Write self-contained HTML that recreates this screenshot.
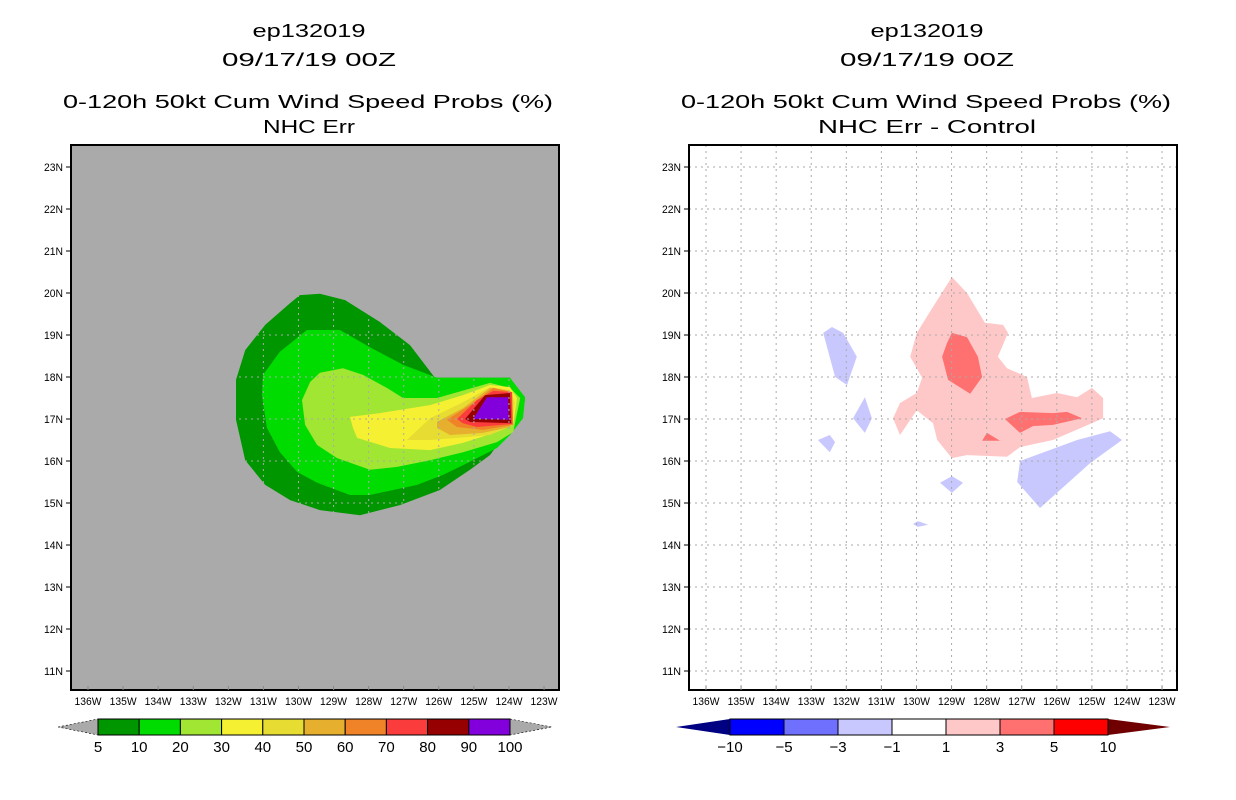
<!DOCTYPE html>
<html><head><meta charset="utf-8"><style>
html,body{margin:0;padding:0;background:#fff;}
svg{display:block;}
text{font-family:"Liberation Sans",sans-serif;fill:#000;}
</style></head><body>
<svg id="chart" width="1236" height="800" viewBox="0 0 1236 800" xmlns="http://www.w3.org/2000/svg">
<defs>
<clipPath id="clipL"><rect x="71" y="145" width="488" height="545"/></clipPath>
<clipPath id="clipR"><rect x="689" y="145" width="488" height="545"/></clipPath>
<clipPath id="clipOuter"><polygon id="outerClipPoly"/></clipPath>
</defs>
<g id="titles">
<text x="309" y="37" text-anchor="middle" font-size="18" textLength="113" lengthAdjust="spacingAndGlyphs">ep132019</text>
<text x="309" y="66" text-anchor="middle" font-size="18" textLength="174" lengthAdjust="spacingAndGlyphs">09/17/19 00Z</text>
<text x="308" y="108" text-anchor="middle" font-size="18" textLength="490" lengthAdjust="spacingAndGlyphs">0-120h 50kt Cum Wind Speed Probs (%)</text>
<text x="309" y="133" text-anchor="middle" font-size="18" textLength="92" lengthAdjust="spacingAndGlyphs">NHC Err</text>
<text x="927" y="37" text-anchor="middle" font-size="18" textLength="113" lengthAdjust="spacingAndGlyphs">ep132019</text>
<text x="927" y="66" text-anchor="middle" font-size="18" textLength="174" lengthAdjust="spacingAndGlyphs">09/17/19 00Z</text>
<text x="926" y="108" text-anchor="middle" font-size="18" textLength="490" lengthAdjust="spacingAndGlyphs">0-120h 50kt Cum Wind Speed Probs (%)</text>
<text x="927" y="133" text-anchor="middle" font-size="18" textLength="218" lengthAdjust="spacingAndGlyphs">NHC Err - Control</text>
</g>
<g id="left"></g>
<g id="right"></g>
<g id="cbars"></g>
</svg>
<script>
// ---- data ----
var lonTicks = [-136,-135,-134,-133,-132,-131,-130,-129,-128,-127,-126,-125,-124,-123];
var lonLabels = ["136W","135W","134W","133W","132W","131W","130W","129W","128W","127W","126W","125W","124W","123W"];
var latTicks = [23,22,21,20,19,18,17,16,15,14,13,12,11];
var latLabels = ["23N","22N","21N","20N","19N","18N","17N","16N","15N","14N","13N","12N","11N"];

var probLevels = [5,10,20,30,40,50,60,70,80,90,100];
var probLevelLabels = ["5","10","20","30","40","50","60","70","80","90","100"];
var probColors = ["#009600","#00dc00","#a0e632","#f5f032","#e6dc32","#e6af2d","#f08228","#fa3c3c","#960000","#8200dc"];

var diffLevelLabels = ["-10","-5","-3","-1","1","3","5","10"];
var diffColors = ["#0000ff","#7070ff","#c8c8ff","#ffffff","#ffc8c8","#ff7070","#ff0000"];
var diffTipColors = ["#000082","#700000"];

// probability contours [lon, lat] per level (5,10,...,90)
var prob5 = [[-130.24,19.76],[-129.96,19.95],[-129.39,19.98],[-128.67,19.83],[-127.68,19.31],[-126.82,18.76],[-126.11,17.98],[-123.97,17.98],[-123.54,17.45],[-123.91,16.86],[-124.54,16.14],[-125.11,15.79],[-125.97,15.31],[-127.11,14.95],[-128.25,14.71],[-129.39,14.83],[-130.24,15.07],[-130.95,15.43],[-131.52,16.02],[-131.78,16.98],[-131.78,17.93],[-131.52,18.64],[-130.95,19.24]];
var prob10 = [[-131.04,17.57],[-131.01,18.05],[-130.53,18.60],[-129.76,19.12],[-128.82,19.12],[-127.96,18.71],[-127.02,18.29],[-126.05,17.98],[-123.97,17.98],[-123.54,17.52],[-123.60,17.02],[-123.97,16.62],[-124.34,16.31],[-124.91,16.07],[-125.31,15.90],[-125.88,15.67],[-126.62,15.43],[-127.96,15.19],[-128.53,15.19],[-129.47,15.48],[-130.04,15.74],[-130.53,16.21],[-130.90,16.79]];
var prob20 = [[-129.90,17.45],[-129.67,17.88],[-129.39,18.10],[-128.73,18.21],[-128.16,18.05],[-127.48,17.74],[-127.02,17.50],[-126.05,17.50],[-124.54,17.86],[-123.97,17.74],[-123.68,17.50],[-123.88,16.69],[-124.34,16.45],[-125.31,16.21],[-126.25,16.02],[-127.19,15.86],[-127.96,15.79],[-128.90,16.07],[-129.47,16.38],[-129.81,16.86]];
var prob30 = [[-128.53,17.05],[-127.68,17.14],[-126.25,17.33],[-125.31,17.57],[-124.54,17.81],[-123.97,17.76],[-123.77,17.50],[-123.88,16.86],[-124.34,16.69],[-125.31,16.43],[-126.25,16.26],[-127.39,16.31],[-128.33,16.55],[-128.45,16.79]];
var prob40 = [[-126.91,16.50],[-126.25,17.02],[-125.31,17.40],[-124.54,17.76],[-123.97,17.69],[-123.83,17.40],[-123.91,16.86],[-124.54,16.62],[-125.48,16.55],[-126.25,16.50]];
var prob50 = [[-126.05,16.93],[-125.31,17.26],[-124.54,17.74],[-123.97,17.67],[-123.88,17.02],[-123.97,16.81],[-124.74,16.67],[-125.68,16.62],[-126.05,16.79]];
var prob60 = [[-125.77,16.98],[-125.11,17.33],[-124.45,17.74],[-123.91,17.64],[-123.88,16.86],[-124.74,16.74],[-125.48,16.81]];
var prob70 = [[-125.48,17.00],[-124.91,17.45],[-124.45,17.67],[-123.91,17.64],[-123.91,16.88],[-124.91,16.81],[-125.31,16.90]];
var prob80 = [[-125.25,17.00],[-124.68,17.57],[-123.97,17.62],[-123.94,16.90],[-125.11,16.93]];
var prob90 = [[-125.02,17.00],[-124.63,17.52],[-124.03,17.52],[-124.00,16.98]];

// difference contours
var diffPos1 = [[-128.99,20.38],[-128.56,20.00],[-128.05,19.29],[-127.53,19.24],[-127.39,19.05],[-127.68,18.48],[-127.42,18.21],[-126.85,18.00],[-126.71,17.50],[-125.99,17.62],[-125.42,17.52],[-125.00,17.74],[-124.68,17.50],[-124.68,17.02],[-125.25,16.81],[-126.11,16.50],[-127.05,16.33],[-127.42,16.10],[-128.56,16.14],[-128.99,16.07],[-129.41,16.50],[-129.53,16.90],[-129.99,17.21],[-130.47,16.62],[-130.67,17.02],[-130.47,17.38],[-129.99,17.62],[-129.84,17.98],[-130.18,18.48],[-129.99,19.05],[-129.53,19.67]];
var diffPos3a = [[-128.99,19.05],[-128.56,18.95],[-128.25,18.48],[-128.13,18.00],[-128.47,17.60],[-129.10,17.93],[-129.27,18.48],[-129.13,18.81]];
var diffPos3b = [[-127.48,17.00],[-127.05,17.17],[-126.11,17.14],[-125.71,17.17],[-125.28,17.02],[-126.11,16.86],[-126.68,16.83],[-127.05,16.67]];
var diffPos3c = [[-128.13,16.48],[-127.99,16.67],[-127.62,16.48]];
var diffNeg1a = [[-132.66,19.05],[-132.41,19.19],[-132.09,19.05],[-131.70,18.48],[-131.98,17.81],[-132.32,18.00]];
var diffNeg1b = [[-131.47,17.52],[-131.27,17.02],[-131.47,16.67],[-131.81,17.02]];
var diffNeg1c = [[-132.81,16.50],[-132.47,16.62],[-132.32,16.45],[-132.47,16.21]];
var diffNeg1d = [[-129.33,15.48],[-128.99,15.64],[-128.67,15.48],[-128.99,15.24]];
var diffNeg1e = [[-130.10,14.50],[-129.96,14.57],[-129.67,14.48],[-129.96,14.43]];
var diffNeg1f = [[-127.05,16.00],[-125.42,16.50],[-124.48,16.71],[-124.14,16.50],[-125.05,15.95],[-126.48,14.88],[-127.13,15.50]];

// ---- drawing ----
var NS = "http://www.w3.org/2000/svg";
function mk(tag, attrs, parent){var e=document.createElementNS(NS,tag);for(var k in attrs)e.setAttribute(k,attrs[k]);parent.appendChild(e);return e;}
function xAxis(off){return function(lon){return 88+off+(lon+136)*35.08;};}
function yAxis(lat){return 167+(23-lat)*42;}
function pts(poly,xf){return poly.map(function(p){return xf(p[0]).toFixed(1)+","+yAxis(p[1]).toFixed(1);}).join(" ");}

function drawAxes(g,off,xf){
  lonTicks.forEach(function(lon,i){
    var x=xf(lon);
    var t=mk("line",{x1:x,x2:x,y1:690,y2:686,stroke:"#888","stroke-width":1},g);
    
    
    var l=mk("text",{x:x,y:705,"text-anchor":"middle","font-size":11,textLength:27,lengthAdjust:"spacingAndGlyphs"},g);
    l.textContent=lonLabels[i];
    
    
  });
  latTicks.forEach(function(lat,i){
    var y=yAxis(lat);
    var t=mk("line",{x1:71+off-5,x2:71+off,y1:y,y2:y,stroke:"#000","stroke-width":1},g);
    
    
    var l=mk("text",{x:71+off-8,y:y+4,"text-anchor":"end","font-size":11,textLength:19,lengthAdjust:"spacingAndGlyphs"},g);
    l.textContent=latLabels[i];
    
    
  });
}
function drawGrid(g,xf,clip){
  var gg=mk("g",{"clip-path":clip,stroke:"#aaaaaa","stroke-width":1,"stroke-dasharray":"2,4"},g);
  lonTicks.forEach(function(lon){var x=xf(lon);mk("line",{x1:x,x2:x,y1:145,y2:690},gg);});
  latTicks.forEach(function(lat){var y=yAxis(lat);mk("line",{x1:71,x2:1177,y1:y,y2:y},gg);});
  
  
}

// Left panel
var L=document.getElementById("left"), xL=xAxis(0);
var bgL=mk("rect",{x:71,y:145,width:488,height:545,fill:"#aaaaaa"},L);


var probPolys=[prob5,prob10,prob20,prob30,prob40,prob50,prob60,prob70,prob80,prob90];
probPolys.forEach(function(poly,i){
  var p=mk("polygon",{points:pts(poly,xL),fill:probColors[i],"clip-path":"url(#clipL)"},L);
  
  
});
document.getElementById("outerClipPoly").setAttribute("points",pts(prob5,xL));
drawGrid(L,xL,"url(#clipOuter)");
var frL=mk("rect",{x:71,y:145,width:488,height:545,fill:"none",stroke:"#000","stroke-width":2},L);


drawAxes(L,0,xL);

// Right panel
var R=document.getElementById("right"), xR=xAxis(618);
var bgR=mk("rect",{x:689,y:145,width:488,height:545,fill:"#ffffff"},R);


[[diffPos1,diffColors[4],'diff-1to3'],[diffPos3a,diffColors[5],'diff-3to5'],[diffPos3b,diffColors[5],'diff-3to5'],[diffPos3c,diffColors[5],'diff-3to5'],
 [diffNeg1a,diffColors[2],'diff-minus1to3'],[diffNeg1b,diffColors[2],'diff-minus1to3'],[diffNeg1c,diffColors[2],'diff-minus1to3'],[diffNeg1d,diffColors[2],'diff-minus1to3'],[diffNeg1e,diffColors[2],'diff-minus1to3'],[diffNeg1f,diffColors[2],'diff-minus1to3']].forEach(function(d){
  var p=mk("polygon",{points:pts(d[0],xR),fill:d[1],"clip-path":"url(#clipR)"},R);
  
  
});
drawGrid(R,xR,"url(#clipR)");
var frR=mk("rect",{x:689,y:145,width:488,height:545,fill:"none",stroke:"#000","stroke-width":2},R);


drawAxes(R,618,xR);

// Colorbars
var C=document.getElementById("cbars");
(function(){
  var x0=98,x1=510,n=probColors.length,w=(x1-x0)/n,yt=719,yb=735,ym=727;
  var t1=mk("polygon",{points:"58,"+ym+" "+x0+","+yt+" "+x0+","+yb,fill:"#aaaaaa",stroke:"#000","stroke-width":0.6,"stroke-dasharray":"2,2"},C);
  
  
  var t2=mk("polygon",{points:x1+","+yt+" 552,"+ym+" "+x1+","+yb,fill:"#aaaaaa",stroke:"#000","stroke-width":0.6,"stroke-dasharray":"2,2"},C);
  
  
  probColors.forEach(function(c,i){
    var r=mk("rect",{x:x0+i*w,y:yt,width:w,height:yb-yt,fill:c,stroke:"#000","stroke-width":1},C);
    
    
  });
  probLevelLabels.forEach(function(s,i){
    var t=mk("text",{x:x0+i*w,y:752,"text-anchor":"middle","font-size":15},C);
    t.textContent=s;
    
    
  });
})();
(function(){
  var x0=730,x1=1108,n=diffColors.length,w=(x1-x0)/n,yt=719,yb=735,ym=727;
  var t1=mk("polygon",{points:"676,"+ym+" "+x0+","+yt+" "+x0+","+yb,fill:diffTipColors[0]},C);
  
  
  var t2=mk("polygon",{points:x1+","+yt+" 1170,"+ym+" "+x1+","+yb,fill:diffTipColors[1]},C);
  
  
  diffColors.forEach(function(c,i){
    var r=mk("rect",{x:x0+i*w,y:yt,width:w,height:yb-yt,fill:c,stroke:"#000","stroke-width":1},C);
    
    
  });
  diffLevelLabels.forEach(function(s,i){
    var t=mk("text",{x:x0+i*w,y:752,"text-anchor":"middle","font-size":15},C);
    t.textContent=s.replace("-","\u2212");
    
    
  });
})();
</script>
</body></html>
